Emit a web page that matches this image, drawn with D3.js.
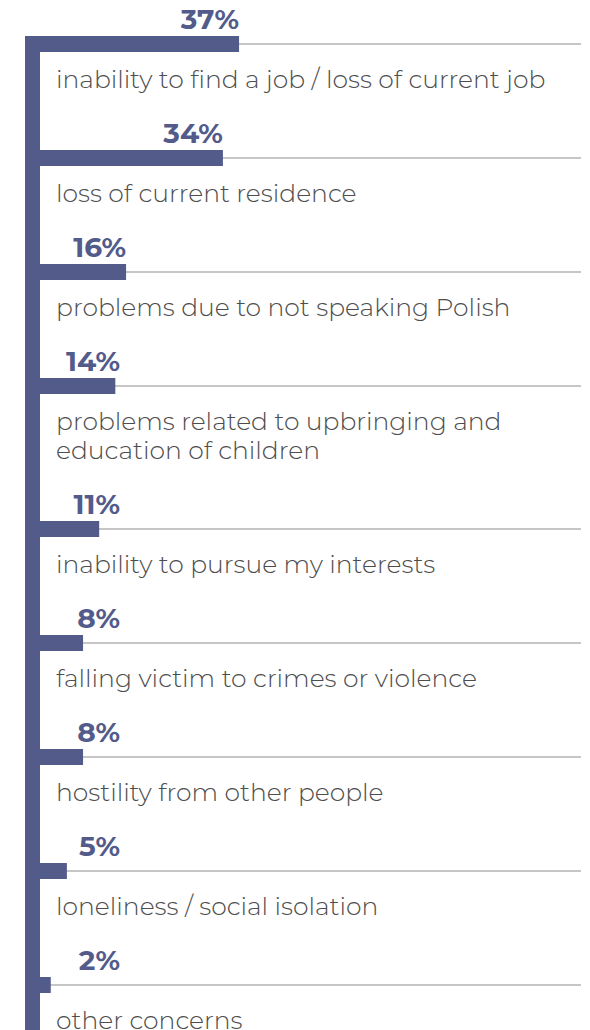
<!DOCTYPE html>
<html><head><meta charset="utf-8">
<script src="https://cdn.jsdelivr.net/npm/d3@7"></script>
<style>
html,body{margin:0;padding:0;background:#fff;}
svg{display:block;}
</style></head>
<body>
<script>
const categories = [
  ["inability to find a job / loss of current job"],
  ["loss of current residence"],
  ["problems due to not speaking Polish"],
  ["problems related to upbringing and", "education of children"],
  ["inability to pursue my interests"],
  ["falling victim to crimes or violence"],
  ["hostility from other people"],
  ["loneliness / social isolation"],
  ["other concerns"]
];
const values = [37, 34, 16, 14, 11, 8, 8, 5, 2];
const valueLabels = ["37%", "34%", "16%", "14%", "11%", "8%", "8%", "5%", "2%"];

const W = 590, H = 1030;
const barColor = "#535b8b";
const svg = d3.select("body").append("svg").attr("width", W).attr("height", H);

const x = d3.scaleLinear().domain([0, 100]).range([40, 578]);

// vertical positions: rows of base height plus extra per additional label line
const rowStep = 114, extraLine = 29, firstY = 44;
let acc = 0;
const rowY = categories.map((c, i) => {
  const y = firstY + i * rowStep + acc * extraLine;
  acc += c.length - 1;
  return y;
});

const data = values.map((v, i) => ({v, lab: valueLabels[i], cat: categories[i], y: rowY[i]}));

// gray rules
svg.selectAll("line.rule").data(data).join("line")
  .attr("x1", 37).attr("x2", 581)
  .attr("y1", d => d.y).attr("y2", d => d.y)
  .attr("stroke", "#b3b3b3").attr("stroke-width", 1.5);

// vertical spine
svg.append("rect").attr("x", 25).attr("y", rowY[0] - 8).attr("width", 15).attr("height", H - rowY[0] + 8)
  .attr("fill", barColor);

// bars
svg.selectAll("rect.bar").data(data).join("rect")
  .attr("x", x(0)).attr("y", d => d.y - 8)
  .attr("width", d => x(d.v) - x(0)).attr("height", 16)
  .attr("fill", barColor);

// value labels
svg.selectAll("text.val").data(data).join("text")
  .attr("x", d => Math.max(x(d.v), 120)).attr("y", d => d.y - 15)
  .attr("text-anchor", "end")
  .attr("font-family", "Montserrat, 'Open Sans', sans-serif")
  .attr("font-weight", 700).attr("font-size", 28)
  .attr("fill", barColor)
  .text(d => d.lab);

// category labels
const cat = svg.selectAll("text.cat").data(data).join("text")
  .attr("x", 56).attr("y", d => d.y + 44)
  .attr("font-family", "Montserrat, 'Open Sans', sans-serif")
  .attr("font-weight", 300).attr("font-size", 25)
  .attr("fill", "#4d4d4d");
cat.selectAll("tspan").data(d => d.cat).join("tspan")
  .attr("x", 56).attr("dy", (d, i) => i === 0 ? 0 : extraLine)
  .text(d => d);
</script>
</body></html>
